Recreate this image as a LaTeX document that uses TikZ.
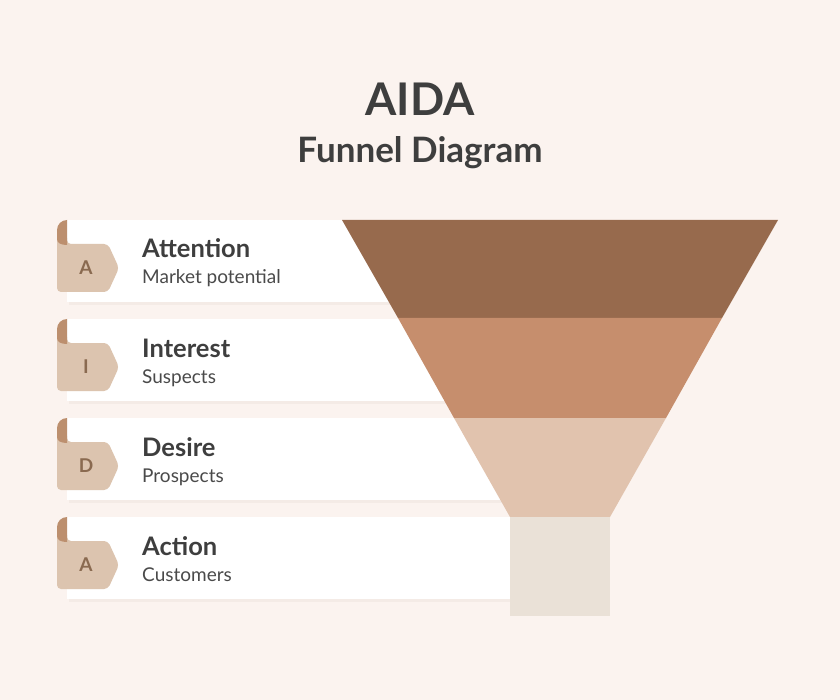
\documentclass[tikz,border=0pt]{standalone}
\usepackage{fontspec}
\setmainfont{Lato}
\definecolor{bg}{HTML}{FBF3EF}
\definecolor{shadowc}{HTML}{F4EBE6}
\definecolor{bandone}{HTML}{976A4D}
\definecolor{bandtwo}{HTML}{C68E6D}
\definecolor{bandthree}{HTML}{E1C3AE}
\definecolor{bandfour}{HTML}{EAE1D7}
\definecolor{tabc}{HTML}{DCC4AF}
\definecolor{curlc}{HTML}{BC8F6E}
\definecolor{letterc}{HTML}{8A6A50}
\definecolor{textc}{HTML}{3E3E3E}
\definecolor{subc}{HTML}{4A4A4A}
\tikzset{
  stepname/.style={anchor=base west, text=textc, font=\bfseries\fontsize{25.5}{28}\selectfont, inner sep=0},
  stepsub/.style={anchor=base west, text=subc, font=\fontsize{19}{21}\selectfont, inner sep=0},
  letterlab/.style={text=letterc, font=\bfseries\fontsize{19}{21}\selectfont, inner sep=0},
  titlelab/.style={anchor=base, text=textc, font=\bfseries, inner sep=0},
}
\begin{document}
\begin{tikzpicture}[x=1pt,y=-1pt]
\fill[bg] (0,0) rectangle (840,700);
\useasboundingbox (0,0) rectangle (840,700);
% title
\node[titlelab, font=\bfseries\fontsize{45}{48}\selectfont] (title) at (420,116) {AIDA};
\node[titlelab, font=\bfseries\fontsize{35}{38}\selectfont] (subtitle) at (420,163) {Funnel Diagram};
% rows
\foreach \t/\L/\T/\S/\n in {220/A/Attention/Market potential/att, 319/I/Interest/Suspects/int, 418/D/Desire/Prospects/des, 517/A/Action/Customers/act}{
  \begin{scope}[shift={(0,\t)}]
    \fill[shadowc] (69,3) rectangle (560,85);
    \fill[white] (67,0) rectangle (560,82);
    \fill[tabc, rounded corners=4] (67,24) -- (108,24) -- (119,48) -- (108,72) -- (57,72) -- (57,14) -- (67,14) -- cycle;
    \fill[curlc] (67,25) -- (67,0) arc[start angle=-90, end angle=-180, radius=10] -- (57,19) .. controls (57,23) and (61,25) .. (67,25) -- cycle;
    \node[letterlab] (\n-letter) at (86,48) {\L};
    \node[stepname] (\n-title) at (142,38) {\T};
    \node[stepsub] (\n-sub) at (142,64) {\S};
  \end{scope}
}
% funnel
\fill[bandone] (342,220) -- (778,220) -- (722,318) -- (398,318) -- cycle;
\fill[bandtwo] (398,318) -- (722,318) -- (666,418) -- (454,418) -- cycle;
\fill[bandthree] (454,418) -- (666,418) -- (610,517) -- (510,517) -- cycle;
\fill[bandfour] (510,517) rectangle (610,616);
\end{tikzpicture}
\end{document}
